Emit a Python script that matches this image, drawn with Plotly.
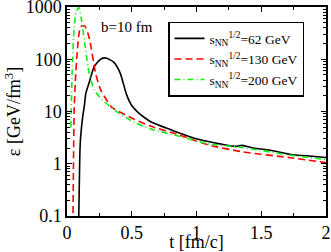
import plotly.graph_objects as go

# energy density vs time, b = 10 fm
t_62 = [0.090, 0.095, 0.100, 0.105, 0.120, 0.135, 0.145, 0.170, 0.210, 0.260, 0.300,
        0.360, 0.410, 0.460, 0.500, 0.550, 0.600, 0.650, 0.810, 1.000, 1.200, 1.300, 1.350,
        1.420, 1.600, 1.730, 1.850, 2.000]
e_62 = [0.07, 0.4, 1.8, 3.2, 7.5, 13.5, 22, 35, 72, 100, 106,
        88, 55, 21, 13, 9.5, 7.6, 6.3, 4.4, 3.0, 2.35, 2.15, 2.25,
        2.05, 1.75, 1.5, 1.42, 1.32]

t_130 = [0.046, 0.050, 0.055, 0.065, 0.080, 0.105, 0.136, 0.160, 0.180, 0.220, 0.260,
         0.340, 0.370, 0.520, 0.650, 0.860, 1.090, 1.350, 1.730, 2.000]
e_130 = [0.07, 1.0, 10, 40, 150, 420, 435, 320, 205, 55, 26,
         12.5, 11, 7.1, 5.2, 3.6, 2.3, 1.7, 1.3, 1.05]

t_200 = [0.030, 0.040, 0.055, 0.070, 0.092, 0.110, 0.144, 0.170, 0.210, 0.270,
         0.370, 0.520, 0.650, 0.860, 1.090, 1.350, 1.730, 2.000]
e_200 = [5, 60, 400, 800, 980, 600, 150, 55, 26, 17,
         10.5, 6.2, 4.6, 3.4, 2.4, 2.05, 1.45, 1.2]

names = ["s<sub>NN</sub><sup>1/2</sup>=62 GeV",
         "s<sub>NN</sub><sup>1/2</sup>=130 GeV",
         "s<sub>NN</sub><sup>1/2</sup>=200 GeV"]

FONT = "Liberation Serif"

fig = go.Figure()
fig.add_trace(go.Scatter(x=t_62, y=e_62, mode="lines", name=names[0],
                         line=dict(color="black", width=1.6, shape="spline", smoothing=0.6)))
fig.add_trace(go.Scatter(x=t_130, y=e_130, mode="lines", name=names[1],
                         line=dict(color="#ff0000", width=1.6, dash="7px,4px", shape="spline", smoothing=0.6)))
fig.add_trace(go.Scatter(x=t_200, y=e_200, mode="lines", name=names[2],
                         line=dict(color="#11ee11", width=1.6, dash="6px,3px,1px,3px", shape="spline", smoothing=0.6)))

fig.add_annotation(x=0.25, y=0.905, xref="x", yref="paper", text="b=10 fm",
                   showarrow=False, xanchor="left", yanchor="middle",
                   font=dict(family=FONT, size=15, color="black"))

fig.update_xaxes(range=[0, 2], tickvals=[0, 0.5, 1, 1.5, 2], ticktext=["0", "0.5", "1", "1.5", "2"],
                 ticks="inside", ticklen=5, tickwidth=1, tickcolor="black",
                 minor=dict(dtick=0.25, ticks="inside", ticklen=3, tickcolor="black", showgrid=False),
                 showline=True, linecolor="black", linewidth=1.5, mirror="allticks",
                 showgrid=False, zeroline=False, automargin=False, ticklabeloverflow="allow",
                 title=dict(text="t [fm/c]", font=dict(family=FONT, size=18), standoff=0),
                 tickfont=dict(family=FONT, size=18, color="black"))
fig.update_yaxes(type="log", range=[-1, 3], tickvals=[0.1, 1, 10, 100, 1000],
                 ticktext=["0.1", "1", "10", "100", "1000"],
                 ticks="inside", ticklen=5, tickwidth=1, tickcolor="black",
                 minor=dict(dtick="D1", ticks="inside", ticklen=3, tickcolor="black", showgrid=False),
                 showline=True, linecolor="black", linewidth=1.5, mirror="allticks",
                 showgrid=False, zeroline=False, automargin=False, ticklabeloverflow="allow",
                 title=dict(text="ε [GeV/fm<sup>3</sup>]", font=dict(family=FONT, size=18), standoff=0),
                 tickfont=dict(family=FONT, size=18, color="black"))

fig.update_layout(width=331, height=252, margin=dict(l=67, r=5, t=7, b=36),
                  paper_bgcolor="white", plot_bgcolor="white",
                  font=dict(family=FONT, color="black"),
                  legend=dict(x=0.39, y=0.93, xanchor="left", yanchor="top",
                              bgcolor="white", bordercolor="black", borderwidth=1.5,
                              itemwidth=30,
                              font=dict(family=FONT, size=13.5), tracegroupgap=0))

# page body has a default 8px margin; drop it so the figure sits at the corner
fig.write_html("out.html", config={"displayModeBar": False},
               post_script="document.body.style.margin='0';")
